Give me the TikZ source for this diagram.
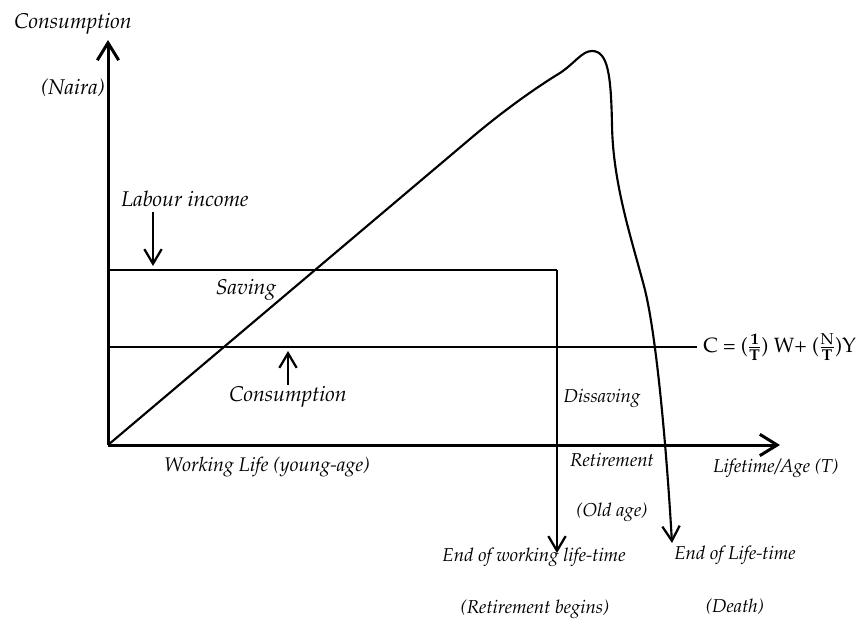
\documentclass[tikz,border=0pt]{standalone}
\usepackage[T1]{fontenc}
\usepackage{mathpazo}
\usetikzlibrary{arrows.meta}
\tikzset{
  axis/.style={line width=2.25pt, -{Straight Barb[length=13pt,width=16pt,line width=2.25pt]}},
  plain/.style={line width=1.6pt},
  pointer/.style={line width=1.7pt, -{Straight Barb[length=11pt,width=13pt,line width=1.7pt]}},
  lbl/.style={font=\fontsize{16}{19}\selectfont\itshape, inner sep=0pt},
  lblmd/.style={font=\fontsize{14.8}{18}\selectfont\itshape, inner sep=0pt},
  lblsm/.style={font=\fontsize{14}{17}\selectfont\itshape, inner sep=0pt},
  formula/.style={font=\fontsize{15.5}{19}\selectfont, inner sep=0pt, anchor=west}
}
\begin{document}
\begin{tikzpicture}[x=0.75pt,y=-0.75pt]
\useasboundingbox (0,0) rectangle (864,620);
% key points
\coordinate (O) at (108,445);
\coordinate (ytop) at (108,40);
\coordinate (xend) at (780,445);
\coordinate (inc0) at (108,270);
\coordinate (inc1) at (557,270);
\coordinate (retire) at (557,553);
\coordinate (con0) at (108,347);
\coordinate (con1) at (697,347);
\coordinate (incA) at (153,212);
\coordinate (incB) at (153,266);
\coordinate (conA) at (288,385);
\coordinate (conB) at (288,351);
\coordinate (death) at (672,543);
% axes
\draw[axis] (O) -- (ytop);
\draw[axis] (O) -- (xend);
% labour income and consumption levels
\draw[plain] (inc0) -- (inc1);
\draw[pointer] (inc1) -- (retire);
\draw[plain] (con0) -- (con1);
% small pointers
\draw[pointer] (incA) -- (incB);
\draw[pointer] (conA) -- (conB);
% wealth / income path
\draw[plain, -{Straight Barb[length=11pt,width=13pt,line width=1.7pt]}]
  (O) -- (470,139) .. controls (510,105) and (545,82) .. (560,73)
  .. controls (575,63) and (582,51) .. (592,51)
  .. controls (608,51) and (611,75) .. (612,125)
  .. controls (613,185) and (632,240) .. (645,290)
  .. controls (656,335) and (666,440) .. (death);
% labels
\node[lbl] (tY) at (73,24) {Consumption};
\node[lbl] (tN) at (73,88) {(Naira)};
\node[lbl] (tL) at (185,199) {Labour income};
\node[lbl] (tS) at (246,290) {Saving};
\node[lbl] (tC) at (288,397) {Consumption};
\node[lblsm] (tD) at (602,398) {Dissaving};
\node[lblmd] (tW) at (267,467) {Working Life (young-age)};
\node[lblsm] (tR) at (612,460) {Retirement};
\node[lblsm] (tO) at (612,512) {(Old age)};
\node[lblsm] (tT) at (776,468) {Lifetime/Age (T)};
\node[lblsm] (tE) at (534,557) {End of working life-time};
\node[lblsm] (tB) at (535,609) {(Retirement begins)};
\node[lblsm] (tF) at (735,555) {End of Life-time};
\node[lblsm] (tX) at (735,607) {(Death)};
\node[formula] (eq) at (703,347) {C = ($\frac{\mathbf{1}}{\mathbf{T}}$) W+ ($\frac{\mathrm{N}}{\mathbf{T}}$)Y};
\end{tikzpicture}
\end{document}
